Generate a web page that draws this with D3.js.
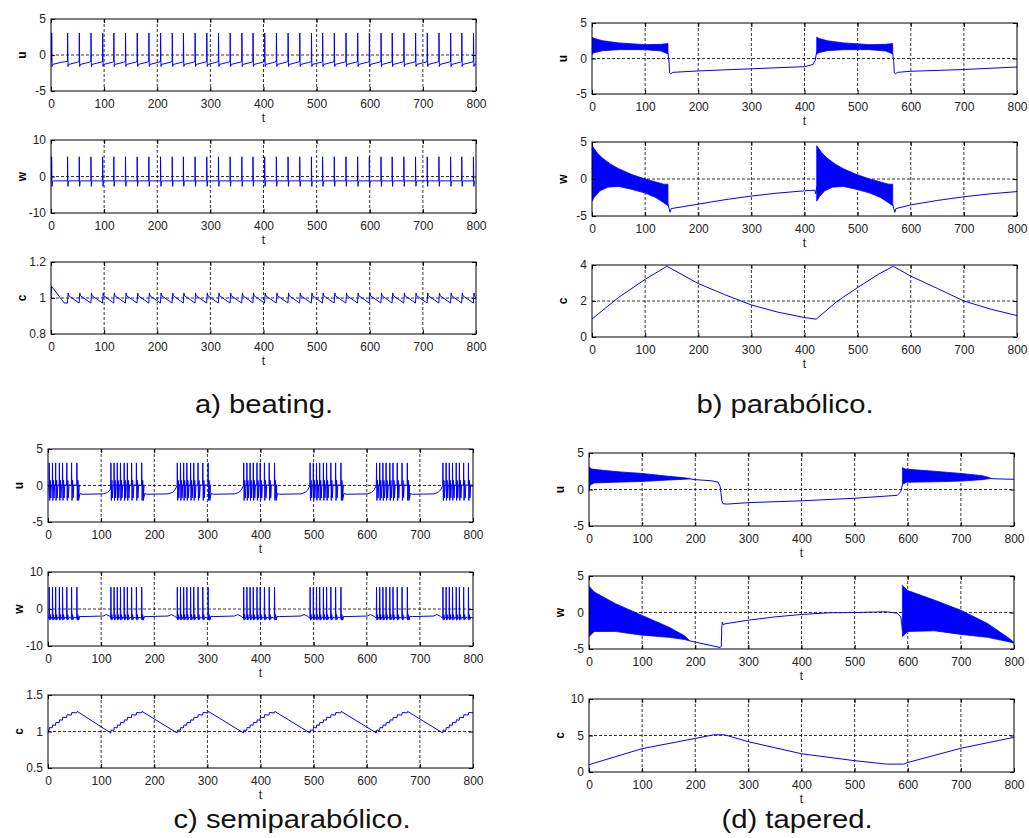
<!DOCTYPE html>
<html>
<head>
<meta charset="utf-8">
<script src="https://cdn.jsdelivr.net/npm/d3@7"></script>
<style>
  body { margin: 0; background: #fff; }
  text { font-family: Arial, "Liberation Sans", sans-serif; }
</style>
</head>
<body>
<svg id="fig" width="1029" height="838"></svg>
<script>
// ---- shared ticks ----
const tTicks = [0, 100, 200, 300, 400, 500, 600, 700, 800];

// ---- a) beating ----
const aSpikeT = [1, 31, 53, 75, 97, 118, 140, 162, 184, 206, 228, 249, 271, 293, 315, 337, 359, 380,
                 402, 424, 446, 468, 490, 511, 533, 555, 577, 599, 621, 642, 664, 686, 708, 730, 752, 773, 795];
const aUShape = [[0, -0.9], [0.3, 3.05], [1.0, -1.6], [2.5, -1.3], [19, -1.0]];
const aWShape = [[0, -1.2], [0.2, 5.4], [0.9, -2.7], [1.8, -1.3], [3, -1.2]];
const aCStart = [[0, 1.0], [1, 1.065], [25, 0.972]];
const aCShape = [[0, 0.972], [1.2, 1.028], [2.5, 1.012]];
const aCEnd = [[800, 1.0]];

// ---- b) parabolico ----
const bUUpper1 = [[0, 3.0], [5, 2.8], [20, 2.5], [50, 2.2], [100, 1.95], [130, 2.0], [143, 2.1]];
const bULower1 = [[0, 0.55], [3, 0.8], [20, 1.1], [50, 1.25], [100, 1.25], [130, 1.05], [143, 0.65]];
const bUUpper2 = [[423, 3.0], [428, 2.8], [443, 2.5], [473, 2.2], [523, 1.95], [553, 2.0], [566, 2.1]];
const bULower2 = [[423, 0.55], [426, 0.8], [443, 1.1], [473, 1.25], [523, 1.25], [553, 1.05], [566, 0.65]];
const bULine1 = [[143, 0.8], [145, -0.5], [146, -2.0], [148, -2.15], [152, -1.95], [200, -1.75], [300, -1.45],
                 [400, -1.15], [416, -0.85], [420, -0.3], [423, 1.0]];
const bULine2 = [[566, 0.8], [568, -0.5], [569, -2.0], [571, -2.15], [575, -1.95], [600, -1.8], [700, -1.55], [800, -1.2]];

const bWUpper1 = [[0, 4.5], [3, 4.2], [10, 3.5], [20, 2.8], [35, 2.0], [50, 1.4], [75, 0.6], [100, 0.0],
                  [120, -0.4], [135, -0.7], [143, -0.7]];
const bWLower1 = [[0, -3.0], [5, -2.4], [15, -1.6], [30, -1.1], [50, -1.0], [75, -1.4], [100, -1.9],
                  [120, -2.5], [135, -3.2], [143, -3.6]];
const bWUpper2 = [[423, 4.5], [426, 4.2], [433, 3.5], [443, 2.8], [458, 2.0], [473, 1.4], [498, 0.6], [523, 0.0],
                  [543, -0.4], [558, -0.7], [566, -0.7]];
const bWLower2 = [[423, -3.0], [428, -2.4], [438, -1.6], [453, -1.1], [473, -1.0], [498, -1.4], [523, -1.9],
                  [543, -2.5], [558, -3.2], [566, -3.6]];
const bWLine1 = [[143, -3.4], [145, -4.0], [147, -4.5], [149, -4.0], [200, -3.4], [250, -2.8], [300, -2.3],
                 [350, -1.9], [400, -1.6], [419, -1.5], [421, -2.0], [423, -1.0]];
const bWLine2 = [[566, -3.4], [568, -4.0], [570, -4.5], [572, -4.0], [600, -3.5], [650, -2.9], [700, -2.4],
                 [750, -2.0], [800, -1.7]];

const bC = [[0, 1.0], [50, 2.2], [100, 3.2], [141, 3.93], [200, 2.97], [250, 2.35], [300, 1.78], [350, 1.38],
            [400, 1.08], [422, 0.99], [460, 1.95], [500, 2.75], [540, 3.5], [567, 3.93], [600, 3.38],
            [650, 2.7], [700, 2.0], [750, 1.55], [800, 1.19]];

// ---- c) semiparabolico ----
const cBurstT = [-4, 118, 243, 368, 493, 618, 743];
const cSpikeOff = [0, 6, 12, 18, 25, 31, 39, 48, 58];
const cUSpike = [[0, 0.0], [0.4, 3.1], [1.2, -2.05], [2.3, 0.7], [3.3, -1.7], [4.5, 0.1]];
const cUGap = [[61.5, -2.05], [64, -1.1], [68, -1.2], [108, -1.15], [116, -0.95], [121, -0.6]];
const cWSpike = [[0, -2.5], [0.4, 5.9], [1.1, -3.0], [2.2, -1.5], [3.2, -2.8], [4.5, -2.2]];
const cWGap = [[61.5, -3.0], [63, -2.0], [68, -2.05], [108, -1.9], [114, -1.5], [121, -2.0]];
const cCRise = [[0, 0.98], [0.8, 1.02], [6, 1.015], [6.8, 1.055], [12, 1.05], [12.8, 1.09], [18, 1.085],
                [18.8, 1.125], [25, 1.12], [25.8, 1.16], [31, 1.155], [31.8, 1.195], [39, 1.19], [39.8, 1.23],
                [48, 1.225], [48.8, 1.26], [58, 1.255], [59, 1.275]];

// ---- d) tapered ----
const dUUpper1 = [[0, 3.1], [5, 2.8], [30, 2.6], [60, 2.4], [100, 2.2], [150, 1.8], [180, 1.6], [190, 1.5]];
const dULower1 = [[0, -0.2], [2, 0.6], [10, 0.9], [50, 1.0], [100, 1.1], [150, 1.3], [190, 1.45]];
const dUUpper2 = [[590, 3.0], [595, 2.8], [650, 2.5], [700, 2.2], [740, 1.9], [755, 1.6]];
const dULower2 = [[590, 0.7], [598, 1.0], [650, 1.05], [700, 1.15], [740, 1.35], [755, 1.5]];
const dULine1 = [[190, 1.45], [200, 1.35], [230, 1.2], [243, 1.0], [247, 0.4], [250, -1.5], [252, -1.95],
                 [260, -2.0], [300, -1.8], [400, -1.55], [500, -1.2], [580, -0.8], [587, -0.3], [590, 0.7]];
const dULine2 = [[755, 1.5], [770, 1.45], [800, 1.4]];

const dWUpper1 = [[0, 3.6], [10, 2.8], [50, 1.2], [100, -0.4], [150, -2.0], [180, -3.2], [190, -3.9]];
const dWLower1 = [[0, -3.3], [10, -2.6], [50, -2.6], [100, -3.1], [150, -3.4], [180, -3.7], [190, -3.9]];
const dWUpper2 = [[590, 3.7], [600, 3.0], [650, 1.7], [700, 0.3], [750, -1.5], [790, -3.5], [800, -4.1]];
const dWLower2 = [[590, -3.3], [600, -2.6], [650, -2.5], [700, -3.0], [750, -3.4], [790, -4.0], [800, -4.2]];
const dWLine1 = [[190, -3.9], [200, -4.05], [247, -4.8], [249, -4.6], [250, -1.9], [251, -1.3], [253, -1.7],
                 [256, -1.55], [300, -1.05], [350, -0.6], [400, -0.27], [450, -0.05], [500, 0.0], [560, 0.1],
                 [580, -0.1], [587, -0.6], [590, -2.5]];

const dC = [[0, 1.0], [100, 3.2], [200, 4.6], [235, 5.1], [255, 5.1], [300, 4.15], [400, 2.5], [500, 1.55],
            [560, 1.08], [592, 1.08], [600, 1.3], [700, 3.25], [800, 4.75]];

// ---- build polylines from spike times / shapes ----
function spikeTrain(times, shape) {
  const pts = [];
  times.forEach(t => shape.forEach(([dt, v]) => pts.push([t + dt, v])));
  return pts;
}
function burstTrain(starts, offsets, shape, gap) {
  const pts = [];
  starts.forEach(s => {
    offsets.forEach(o => shape.forEach(([dt, v]) => pts.push([s + o + dt, v])));
    gap.forEach(([dt, v]) => pts.push([s + dt, v]));
  });
  return pts;
}
function riseTrain(starts, rise) {
  const pts = [];
  starts.forEach(s => rise.forEach(([dt, v]) => pts.push([s + dt, v])));
  return pts;
}

const svg = d3.select("#fig");
svg.append("rect").attr("width", 1029).attr("height", 838).attr("fill", "#fff");

let clipId = 0;
function drawPlot(box, yDomain, yTicks, yLabel, lines, bands) {
  const [x0, x1, y0, y1] = box;
  const xs = d3.scaleLinear().domain([0, 800]).range([x0, x1]);
  const ys = d3.scaleLinear().domain(yDomain).range([y1, y0]);
  const g = svg.append("g");

  // grid
  g.append("g").selectAll("line").data(tTicks.slice(1, -1)).join("line")
    .attr("x1", d => xs(d)).attr("x2", d => xs(d)).attr("y1", y0).attr("y2", y1)
    .attr("stroke", "#000").attr("stroke-width", 0.8).attr("stroke-dasharray", "3,2");
  g.append("g").selectAll("line").data(yTicks.slice(1, -1)).join("line")
    .attr("y1", d => ys(d)).attr("y2", d => ys(d)).attr("x1", x0).attr("x2", x1)
    .attr("stroke", "#000").attr("stroke-width", 0.8).attr("stroke-dasharray", "3,2");

  // data
  const id = "clip" + (clipId++);
  g.append("clipPath").attr("id", id).append("rect")
    .attr("x", x0).attr("y", y0).attr("width", x1 - x0).attr("height", y1 - y0);
  const body = g.append("g").attr("clip-path", `url(#${id})`);
  const line = d3.line().x(d => xs(d[0])).y(d => ys(d[1]));
  (bands || []).forEach(([up, lo]) => {
    body.append("path")
      .attr("d", line(up.concat(lo.slice().reverse())) + "Z")
      .attr("fill", "#0000ff").attr("stroke", "#0000ff").attr("stroke-width", 0.8);
  });
  lines.forEach(pts => {
    body.append("path").attr("d", line(pts))
      .attr("fill", "none").attr("stroke", "#0000ff").attr("stroke-width", 1);
  });

  // axes (ticks inside, matlab style)
  const bottom = g.append("g").attr("transform", `translate(0,${y1})`)
    .call(d3.axisBottom(xs).tickValues(tTicks).tickSizeInner(-4).tickSizeOuter(0).tickPadding(8).tickFormat(d => d));
  const left = g.append("g").attr("transform", `translate(${x0},0)`)
    .call(d3.axisLeft(ys).tickValues(yTicks).tickSizeInner(-4).tickSizeOuter(0).tickPadding(5).tickFormat(d => String(d)));
  g.append("g").attr("transform", `translate(0,${y0})`)
    .call(d3.axisTop(xs).tickValues(tTicks).tickSizeInner(-4).tickSizeOuter(0).tickFormat(""));
  g.append("g").attr("transform", `translate(${x1},0)`)
    .call(d3.axisRight(ys).tickValues(yTicks).tickSizeInner(-4).tickSizeOuter(0).tickFormat(""));
  g.selectAll(".domain").remove();
  g.selectAll(".tick line").attr("stroke", "#000");
  [bottom, left].forEach(a => a.selectAll("text").attr("font-size", 12).attr("fill", "#222")
    .style("font-family", "Arial, 'Liberation Sans', sans-serif"));

  g.append("rect").attr("x", x0).attr("y", y0).attr("width", x1 - x0).attr("height", y1 - y0)
    .attr("fill", "none").attr("stroke", "#000").attr("stroke-width", 1);

  // labels
  g.append("text").attr("transform", `translate(${x0 - 25},${(y0 + y1) / 2}) rotate(-90)`)
    .attr("text-anchor", "middle").attr("font-size", 12).attr("font-weight", "bold").text(yLabel);
  g.append("text").attr("x", (x0 + x1) / 2).attr("y", y1 + 31)
    .attr("text-anchor", "middle").attr("font-size", 12).attr("fill", "#222").text("t");
}

// a)
drawPlot([51, 476, 19, 91], [-5, 5], [-5, 0, 5], "u", [spikeTrain(aSpikeT, aUShape)]);
drawPlot([51, 476, 140, 213], [-10, 10], [-10, 0, 10], "w", [spikeTrain(aSpikeT, aWShape)]);
drawPlot([51, 476, 262, 334], [0.8, 1.2], [0.8, 1, 1.2], "c",
  [aCStart.concat(spikeTrain(aSpikeT.slice(1), aCShape), aCEnd)]);

// b)
drawPlot([592, 1017, 23, 94], [-5, 5], [-5, 0, 5], "u", [bULine1, bULine2],
  [[bUUpper1, bULower1], [bUUpper2, bULower2]]);
drawPlot([592, 1017, 142, 216], [-5, 5], [-5, 0, 5], "w", [bWLine1, bWLine2],
  [[bWUpper1, bWLower1], [bWUpper2, bWLower2]]);
drawPlot([592, 1017, 265, 337], [0, 4], [0, 2, 4], "c", [bC]);

// c)
drawPlot([48, 473, 449, 522], [-5, 5], [-5, 0, 5], "u", [burstTrain(cBurstT, cSpikeOff, cUSpike, cUGap)]);
drawPlot([48, 473, 572, 646], [-10, 10], [-10, 0, 10], "w", [burstTrain(cBurstT, cSpikeOff, cWSpike, cWGap)]);
drawPlot([48, 473, 695, 768], [0.5, 1.5], [0.5, 1, 1.5], "c", [riseTrain(cBurstT, cCRise)]);

// d)
drawPlot([589, 1014, 453, 526], [-5, 5], [-5, 0, 5], "u", [dULine1, dULine2],
  [[dUUpper1, dULower1], [dUUpper2, dULower2]]);
drawPlot([589, 1014, 576, 649], [-5, 5], [-5, 0, 5], "w", [dWLine1],
  [[dWUpper1, dWLower1], [dWUpper2, dWLower2]]);
drawPlot([589, 1014, 699, 772], [0, 10], [0, 5, 10], "c", [dC]);

// captions (the source figure is slightly stretched horizontally)
const captions = [
  { text: "a) beating.", x: 264, y: 413 },
  { text: "b) parabólico.", x: 785, y: 413 },
  { text: "c) semiparabólico.", x: 292, y: 828 },
  { text: "(d) tapered.", x: 797, y: 828 }
];
svg.selectAll(".cap").data(captions).join("text").attr("class", "cap")
  .attr("transform", d => `translate(${d.x},${d.y}) scale(1.17,1)`)
  .attr("text-anchor", "middle").attr("font-size", 25).attr("fill", "#111").text(d => d.text);
</script>
</body>
</html>
